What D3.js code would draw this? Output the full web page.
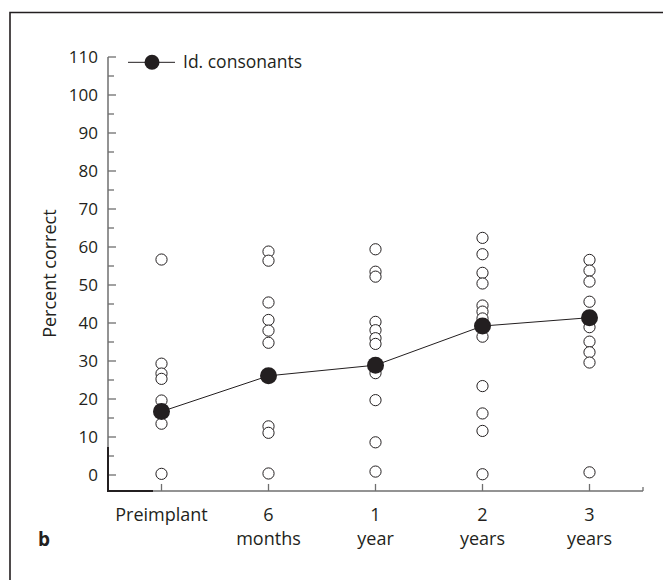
<!DOCTYPE html>
<html>
<head>
<meta charset="utf-8">
<script src="https://cdn.jsdelivr.net/npm/d3@7"></script>
<style>
  body { margin: 0; background: #fff; }
  svg text { font-family: "Open Sans", "Noto Sans", sans-serif; fill: #231f20; }
</style>
</head>
<body>
<svg id="chart" width="663" height="583"></svg>
<script>
// categories and their two-line labels
const categories = ["pre", "6m", "1y", "2y", "3y"];
const labelTop = ["Preimplant", "6", "1", "2", "3"];
const labelBottom = ["", "months", "year", "years", "years"];

// individual scores (open circles)
const preimplant = [56.7, 29.3, 26.7, 25.3, 19.6, 13.5, 0.3];
const sixMonths = [58.8, 56.4, 45.4, 40.8, 38.0, 34.8, 12.8, 11.1, 0.4];
const oneYear = [59.4, 53.5, 52.2, 40.3, 38.1, 36.0, 34.5, 26.8, 19.7, 8.6, 0.9];
const twoYears = [62.4, 58.1, 53.2, 50.4, 44.6, 43.0, 41.2, 36.4, 23.4, 16.2, 11.6, 0.2];
const threeYears = [56.6, 53.8, 50.9, 45.6, 38.9, 35.1, 32.3, 29.6, 0.7];

// group means (filled circles)
const means = [16.7, 26.1, 28.9, 39.2, 41.4];

const yTicks = d3.range(0, 111, 10);

const svg = d3.select("#chart");

const x = d3.scalePoint().domain(categories).range([108, 643]).padding(0.5);
const y = d3.scaleLinear().domain([0, 110]).range([475, 57]);
const axisY = y(-4.2);
const grey = "#6f6f6f";

// frame (top and left rules only)
svg.append("path")
    .attr("d", "M10,580 V12.5 H663")
    .attr("fill", "none")
    .attr("stroke", "#231f20")
    .attr("stroke-width", 1.6);

// y axis
svg.append("line")
    .attr("x1", 108).attr("x2", 108)
    .attr("y1", y(110)).attr("y2", axisY)
    .attr("stroke", grey).attr("stroke-width", 1.5);

svg.selectAll("line.ymajor")
    .data(yTicks)
    .join("line")
    .attr("class", "ymajor")
    .attr("x1", 108).attr("x2", 116)
    .attr("y1", d => y(d)).attr("y2", d => y(d))
    .attr("stroke", grey).attr("stroke-width", 1.3);

svg.selectAll("line.yminor")
    .data(d3.range(5, 110, 10))
    .join("line")
    .attr("class", "yminor")
    .attr("x1", 108).attr("x2", 114)
    .attr("y1", d => y(d)).attr("y2", d => y(d))
    .attr("stroke", grey).attr("stroke-width", 1.3);

svg.selectAll("text.ylab")
    .data(yTicks)
    .join("text")
    .attr("class", "ylab")
    .attr("x", 98)
    .attr("y", d => y(d) + 6)
    .attr("text-anchor", "end")
    .attr("font-size", 17)
    .text(d => d);

svg.append("text")
    .attr("transform", `translate(56,${y(53)}) rotate(-90)`)
    .attr("text-anchor", "middle")
    .attr("font-size", 18)
    .text("Percent correct");

// x axis
svg.append("line")
    .attr("x1", 108).attr("x2", 643)
    .attr("y1", axisY).attr("y2", axisY)
    .attr("stroke", grey).attr("stroke-width", 1.5);
svg.append("line")
    .attr("x1", 643).attr("x2", 643)
    .attr("y1", axisY).attr("y2", axisY - 4)
    .attr("stroke", grey).attr("stroke-width", 1.3);

// darker corner segment on both axes
svg.append("path")
    .attr("d", `M108,${y(7.4)} V${axisY} H153`)
    .attr("fill", "none")
    .attr("stroke", "#231f20")
    .attr("stroke-width", 2);

svg.selectAll("line.xtick")
    .data(categories)
    .join("line")
    .attr("class", "xtick")
    .attr("x1", d => x(d)).attr("x2", d => x(d))
    .attr("y1", axisY).attr("y2", axisY - 7)
    .attr("stroke", grey).attr("stroke-width", 1.3);

svg.selectAll("text.xlab1")
    .data(categories)
    .join("text")
    .attr("class", "xlab1")
    .attr("x", d => x(d))
    .attr("y", 521)
    .attr("text-anchor", "middle")
    .attr("font-size", 18)
    .text((d, i) => labelTop[i]);

svg.selectAll("text.xlab2")
    .data(categories)
    .join("text")
    .attr("class", "xlab2")
    .attr("x", d => x(d))
    .attr("y", 545)
    .attr("text-anchor", "middle")
    .attr("font-size", 18)
    .text((d, i) => labelBottom[i]);

svg.append("text")
    .attr("x", 38).attr("y", 546)
    .attr("font-size", 19)
    .attr("font-weight", "bold")
    .text("b");

// individual points
const groups = [preimplant, sixMonths, oneYear, twoYears, threeYears];
const points = groups.flatMap((vals, i) => vals.map(v => ({ cat: categories[i], v })));

svg.selectAll("circle.ind")
    .data(points)
    .join("circle")
    .attr("class", "ind")
    .attr("cx", d => x(d.cat))
    .attr("cy", d => y(d.v))
    .attr("r", 5.6)
    .attr("fill", "#fff")
    .attr("stroke", "#231f20")
    .attr("stroke-width", 1);

// mean line
const meanData = categories.map((c, i) => ({ cat: c, v: means[i] }));
svg.append("path")
    .datum(meanData)
    .attr("fill", "none")
    .attr("stroke", "#231f20")
    .attr("stroke-width", 1)
    .attr("d", d3.line().x(d => x(d.cat)).y(d => y(d.v)));

svg.selectAll("circle.mean")
    .data(meanData)
    .join("circle")
    .attr("class", "mean")
    .attr("cx", d => x(d.cat))
    .attr("cy", d => y(d.v))
    .attr("r", 8.5)
    .attr("fill", "#231f20");

// legend
const legY = y(108.6);
svg.append("line")
    .attr("x1", 128).attr("x2", 175)
    .attr("y1", legY).attr("y2", legY)
    .attr("stroke", "#231f20").attr("stroke-width", 1);
svg.append("circle")
    .attr("cx", 152).attr("cy", legY).attr("r", 7.5)
    .attr("fill", "#231f20");
svg.append("text")
    .attr("x", 183).attr("y", legY + 6)
    .attr("font-size", 17.5)
    .text("Id. consonants");
</script>
</body>
</html>
